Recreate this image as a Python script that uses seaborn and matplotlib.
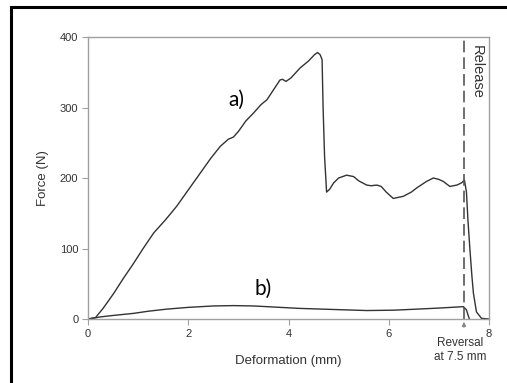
import numpy as np
import pandas as pd
import matplotlib.pyplot as plt
import seaborn as sns
from matplotlib.patches import Rectangle

# =============================================
# Data
deform_a = [0.0, 0.15, 0.30, 0.51, 0.70, 0.91, 1.10, 1.31, 1.55, 1.77, 2.00, 2.24, 2.45, 2.64,
            2.80, 2.90, 3.00, 3.15, 3.30, 3.45, 3.57, 3.70, 3.83, 3.88, 3.95, 4.05, 4.23, 4.40,
            4.52, 4.58, 4.63, 4.67, 4.69, 4.72, 4.76, 4.82, 4.90, 5.00, 5.16, 5.30, 5.40, 5.56,
            5.65, 5.76, 5.85, 5.95, 6.09, 6.29, 6.45, 6.56, 6.75, 6.89, 7.00, 7.09, 7.22,
            7.36, 7.45, 7.51, 7.55, 7.58, 7.62, 7.66, 7.69, 7.75, 7.85, 8.0]
force_a = [0, 2, 15, 36, 57, 79, 100, 122, 141, 160, 183, 207, 228, 245,
           255, 258, 266, 281, 292, 304, 311, 325, 339, 340, 337, 342, 356, 366,
           375, 378, 375, 368, 300, 230, 180, 184, 193, 200, 204, 202, 196, 190,
           189, 190, 188, 180, 171, 174, 180, 186, 195, 200, 198, 195, 188,
           190, 193, 197, 180, 140, 98, 60, 36, 10, 1, 0]

deform_b = [0.0, 0.25, 0.50, 0.91, 1.20, 1.57, 2.00, 2.50, 2.90, 3.30, 3.57, 4.23, 4.90,
            5.56, 6.10, 6.56, 7.00, 7.49, 7.55, 7.58, 7.61]
force_b = [0, 3, 5, 8, 11, 14, 16.5, 18.5, 19, 18.5, 17.5, 15, 13.5,
           12, 12.5, 14, 15.5, 17.5, 13, 6, 0]

xticks = [0, 2, 4, 6, 8]
yticks = [0, 100, 200, 300, 400]
reversal_x = 7.5

# =============================================
# Plotting parameters
sns.set_style("white")
plt.rcParams['font.family'] = ['Liberation Sans', 'DejaVu Sans']

line_color = '#333333'
spine_color = '#a0a0a0'
tickFontSize = 8
labelFontSize = 9.5

df_a = pd.DataFrame({'Deformation': deform_a, 'Force': force_a})
df_b = pd.DataFrame({'Deformation': deform_b, 'Force': force_b})

f = plt.figure(figsize=(5.07, 3.83), dpi=100)
ax = f.add_axes([88 / 507, 1 - 319 / 383, (489 - 88) / 507, (319 - 37) / 383])

sns.lineplot(x='Deformation', y='Force', data=df_a, sort=False, estimator=None,
             color=line_color, linewidth=1.0, ax=ax)
sns.lineplot(x='Deformation', y='Force', data=df_b, sort=False, estimator=None,
             color=line_color, linewidth=1.0, ax=ax)

ax.axvline(reversal_x, color='#555555', linestyle=(0, (7, 3)), linewidth=1.2)

ax.set_xlim(0, 8)
ax.set_ylim(0, 400)
ax.set_xticks(xticks)
ax.set_yticks(yticks)
ax.tick_params(direction='out', length=4, width=0.8, color=spine_color,
               labelsize=tickFontSize, labelcolor='#333333', bottom=True, left=True, pad=3)
for s in ax.spines.values():
    s.set_color(spine_color)
    s.set_linewidth(1.0)

ax.set_xlabel('Deformation (mm)', fontsize=labelFontSize, color='#333333', labelpad=12)
ax.set_ylabel('Force (N)', fontsize=labelFontSize, color='#333333', labelpad=8)

ax.text(2.97, 311, 'a)', fontsize=15, family='Lato', ha='center', va='center', color='black')
ax.text(3.5, 43, 'b)', fontsize=15, family='Lato', ha='center', va='center', color='black')
ax.text(7.62, 389, 'Release', rotation=-90, fontsize=10.5, ha='left', va='top', color='#333333')
ax.text(7.42, -26, 'Reversal\nat 7.5 mm', fontsize=8.5, ha='center', va='top',
        color='#333333', linespacing=1.2, clip_on=False)
ax.annotate('', xy=(reversal_x, 0), xytext=(reversal_x, -16), annotation_clip=False,
            arrowprops=dict(arrowstyle='-|>', color='#888888', lw=0.8, mutation_scale=6))

# black frame around the panel
f.patches.append(Rectangle((11 / 507, -0.1), 1.2, 1.1 - 7 / 383, transform=f.transFigure,
                           fill=False, edgecolor='black', linewidth=2.2))

plt.savefig('out.png', dpi=100)
